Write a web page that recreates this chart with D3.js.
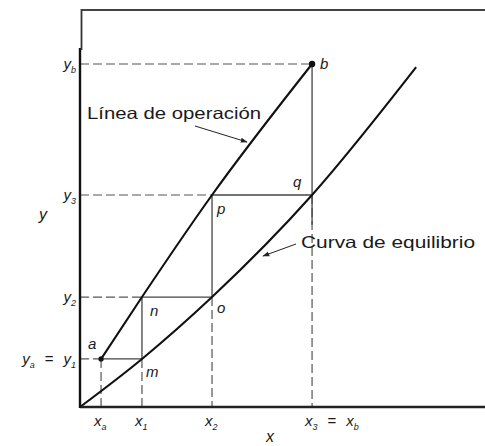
<!DOCTYPE html>
<html>
<head>
<meta charset="utf-8">
<script src="https://cdn.jsdelivr.net/npm/d3@7"></script>
<style>
  html, body { margin: 0; padding: 0; background: #fff; }
  svg text { font-family: "Liberation Sans", Arial, sans-serif; fill: #1a1a1a; }
</style>
</head>
<body>
<svg id="chart" width="485" height="446"></svg>
<script>
// Stage construction on the x–y diagram (arbitrary units, 0..10 on each axis)
const stageX = [0.52, 1.53, 3.26, 5.73];          // x_a, x_1, x_2, x_3 = x_b
const stageY = [1.21, 2.77, 5.34, 8.64];          // y_a = y_1, y_2, y_3, y_b
const xTickLabels = [["x", "a"], ["x", "1"], ["x", "2"], ["x", "3", "=", "x", "b"]];
const yTickLabels = [["y", "a", "=", "y", "1"], ["y", "2"], ["y", "3"], ["y", "b"]];

// Operating line: a, n, p, b
const operX = [0.52, 1.53, 3.26, 5.73];
const operY = [1.21, 2.77, 5.34, 8.64];
// Equilibrium curve: origin, m, o, q, end
const eqX = [0, 1.53, 3.26, 5.73, 8.30];
const eqY = [0, 1.21, 2.77, 5.34, 8.56];

const pointNames = ["a", "m", "n", "o", "p", "q", "b"];

const svg = d3.select("#chart");
const x = d3.scaleLinear().domain([0, 10]).range([80, 485]);
const y = d3.scaleLinear().domain([0, 10]).range([407, 10]);

svg.append("defs").append("marker")
  .attr("id", "arrow").attr("viewBox", "0 0 10 10")
  .attr("refX", 9).attr("refY", 5)
  .attr("markerWidth", 7).attr("markerHeight", 7)
  .attr("orient", "auto-start-reverse")
  .append("path").attr("d", "M0,1.5 L10,5 L0,8.5 Z").attr("fill", "#222");

const dashed = { stroke: "#555", "stroke-width": 1.2, "stroke-dasharray": "9,4" };
const thin = { stroke: "#444", "stroke-width": 1.3 };
function seg(x1, y1, x2, y2, style) {
  const l = svg.append("line")
    .attr("x1", x(x1)).attr("y1", y(y1)).attr("x2", x(x2)).attr("y2", y(y2));
  Object.entries(style).forEach(([k, v]) => l.attr(k, v));
  return l;
}

// Projections to the axes (dashed)
seg(0, stageY[3], stageX[3], stageY[3], dashed);   // y_b
seg(0, stageY[2], stageX[2], stageY[2], dashed);   // y_3
seg(0, stageY[1], stageX[1], stageY[1], dashed);   // y_2
seg(0, stageY[0], stageX[0], stageY[0], dashed);   // y_1
seg(stageX[0], stageY[0], stageX[0], 0, dashed);   // x_a
seg(stageX[1], stageY[0], stageX[1], 0, dashed);   // x_1
seg(stageX[2], stageY[1], stageX[2], 0, dashed);   // x_2
seg(stageX[3], stageY[2], stageX[3], 0, dashed);   // x_3

// Staircase steps (solid)
seg(stageX[0], stageY[0], stageX[1], stageY[0], thin); // a–m
seg(stageX[1], stageY[0], stageX[1], stageY[1], thin); // m–n
seg(stageX[1], stageY[1], stageX[2], stageY[1], thin); // n–o
seg(stageX[2], stageY[1], stageX[2], stageY[2], thin); // o–p
seg(stageX[2], stageY[2], stageX[3], stageY[2], thin); // p–q
seg(stageX[3], stageY[2], stageX[3], stageY[3], thin); // q–b
seg(stageX[3], stageY[2], stageX[3], stageY[2] - 0.75, thin);

// Curves
const line = d3.line().x(d => x(d[0])).y(d => y(d[1])).curve(d3.curveMonotoneX);
svg.append("path").attr("d", line(d3.zip(operX, operY)))
  .attr("fill", "none").attr("stroke", "#111").attr("stroke-width", 2.1);
svg.append("path").attr("d", line(d3.zip(eqX, eqY)))
  .attr("fill", "none").attr("stroke", "#111").attr("stroke-width", 2.1);

// End points a and b
svg.append("circle").attr("cx", x(operX[0])).attr("cy", y(operY[0])).attr("r", 2.6).attr("fill", "#111");
svg.append("circle").attr("cx", x(operX[3])).attr("cy", y(operY[3])).attr("r", 3.2).attr("fill", "#111");

// Frame: axes and top border
svg.append("line").attr("x1", x(0)).attr("y1", y(0)).attr("x2", 485).attr("y2", y(0))
  .attr("stroke", "#222").attr("stroke-width", 2.6);
svg.append("line").attr("x1", x(0)).attr("y1", y(0) + 1).attr("x2", x(0)).attr("y2", 48)
  .attr("stroke", "#111").attr("stroke-width", 2.4);
svg.append("line").attr("x1", x(0) + 1.5).attr("y1", 50).attr("x2", x(0) + 1.5).attr("y2", 9)
  .attr("stroke", "#333").attr("stroke-width", 1.8);
svg.append("line").attr("x1", x(0) + 1.5).attr("y1", 10).attr("x2", 485).attr("y2", 10)
  .attr("stroke", "#444").attr("stroke-width", 1.8);

// Sub-scripted labels: [symbol, subscript, "=", symbol, subscript]
function subLabel(parts, px, py, anchor) {
  const t = svg.append("text").attr("x", px).attr("y", py)
    .attr("text-anchor", anchor).attr("font-size", 15).attr("font-style", "italic");
  parts.forEach((p, i) => {
    const sp = t.append("tspan").text(p);
    if (i === 1 || i === 4) sp.attr("font-size", 9).attr("dy", 4);
    if (i === 2) sp.attr("dy", -4).attr("dx", 10).attr("font-style", "normal");
    if (i === 3) sp.attr("dx", 10);
  });
  return t;
}
yTickLabels.forEach((lab, i) => subLabel(lab, x(0) - 4, y(stageY[i]) + 5, "end"));
xTickLabels.forEach((lab, i) => subLabel(lab, x(stageX[i]) - 7, 426, "start"));

// Axis titles
svg.append("text").attr("x", 39).attr("y", 220).attr("font-size", 16).attr("font-style", "italic").text("y");
svg.append("text").attr("x", 266).attr("y", 442).attr("font-size", 16).attr("font-style", "italic").text("x");

// Point names
const namePos = [
  [operX[0], operY[0], -13, -10],
  [stageX[1], stageY[0], 4, 18],
  [stageX[1], stageY[1], 8, 19],
  [stageX[2], stageY[1], 5, 16],
  [stageX[2], stageY[2], 5, 19],
  [stageX[3], stageY[2], -19, -8],
  [operX[3], operY[3], 8, 5]
];
pointNames.forEach((n, i) => {
  const [px, py, dx, dy] = namePos[i];
  svg.append("text").attr("x", x(px) + dx).attr("y", y(py) + dy)
    .attr("font-size", 15).attr("font-style", "italic").text(n);
});

// Curve annotations
svg.append("text").attr("x", 87).attr("y", 119).attr("font-size", 16.5)
  .attr("textLength", 174).attr("lengthAdjust", "spacingAndGlyphs").text("Línea de operación");
svg.append("line").attr("x1", 195).attr("y1", 126).attr("x2", 247).attr("y2", 142)
  .attr("stroke", "#222").attr("stroke-width", 1).attr("marker-end", "url(#arrow)");
svg.append("text").attr("x", 301).attr("y", 248).attr("font-size", 16.5)
  .attr("textLength", 174).attr("lengthAdjust", "spacingAndGlyphs").text("Curva de equilibrio");
svg.append("line").attr("x1", 296).attr("y1", 244).attr("x2", 263).attr("y2", 256)
  .attr("stroke", "#222").attr("stroke-width", 1).attr("marker-end", "url(#arrow)");
</script>
</body>
</html>
